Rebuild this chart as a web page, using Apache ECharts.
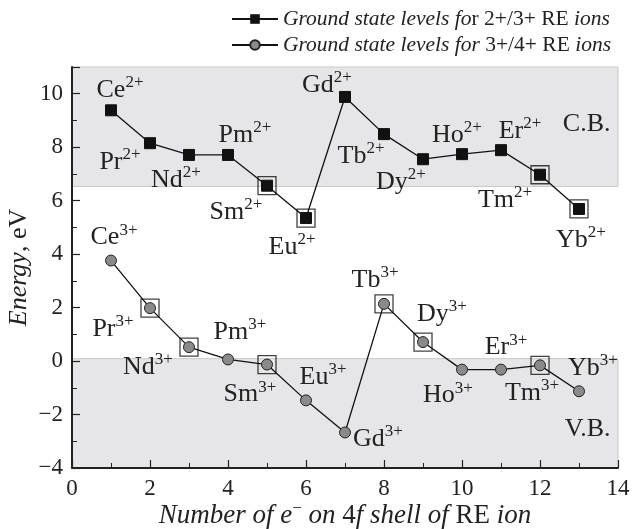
<!DOCTYPE html>
<html>
<head>
<meta charset="utf-8">
<script src="https://cdn.jsdelivr.net/npm/echarts@6/dist/echarts.min.js"></script>
<style>html,body{margin:0;padding:0;background:#fff}#c{width:632px;height:529px}</style>
</head>
<body>
<div id="c"></div>
<script>
// ---- data ----
var electrons = [1,2,3,4,5,6,7,8,9,10,11,12,13];
var ions = ['Ce','Pr','Nd','Pm','Sm','Eu','Gd','Tb','Dy','Ho','Er','Tm','Yb'];
var levels23 = [9.38,8.15,7.71,7.71,6.56,5.35,9.88,8.49,7.55,7.74,7.89,6.97,5.69];
var levels34 = [3.76,1.98,0.52,0.06,-0.13,-1.47,-2.67,2.14,0.71,-0.32,-0.32,-0.16,-1.13];
var boxed23 = [5,6,12,13];
var boxed34 = [2,3,5,8,9,12];
var cbBand = [6.53, 11];
var vbBand = [-4, 0.09];
var xTicks = [0,2,4,6,8,10,12,14];
var yTicks = [-4,-2,0,2,4,6,8,10];
var seriesNames = ['Ground state levels for 2+/3+ RE ions','Ground state levels for 3+/4+ RE ions'];

// ---- styles (label placement offsets) ----
var off23 = [[9,-20],[-30,19],[-13,25],[17,-20],[-31,26],[-14,29],[-18,-12],[-23,22],[-22,23],[-5,-19],[19,-19],[-35,25],[2,31]];
var off34 = [[3,-23],[-37,21],[-41,20],[12,-27],[-17,30],[17,-23],[33,7],[-9,-24],[19,-28],[-14,26],[5,-22],[-8,28],[14,-23]];

var FONT = '"Liberation Serif","DejaVu Serif",serif';
var supRich = {
  b:{fontFamily:FONT,fontSize:26,color:'#222',lineHeight:26},
  s:{fontFamily:FONT,fontSize:17,color:'#222',lineHeight:17,padding:[0,0,15,0]}
};

function buildLine(vals, offs, charge){
  return electrons.map(function(x,i){
    return {value:[x, vals[i]], label:{show:true, position:'inside', offset:offs[i],
      formatter:'{b|'+ions[i]+'}{s|'+charge+'}', rich:supRich}};
  });
}
function buildBoxes(vals, list){
  return list.map(function(x){ return [x, vals[electrons.indexOf(x)]]; });
}

var axisCommon = {
  z:10,
  nameMoveOverlap:false,
  axisLine:{show:true,onZero:false,lineStyle:{color:'#222',width:2}},
  axisTick:{inside:true,length:8,lineStyle:{color:'#222',width:1.2}},
  minorTick:{show:true,splitNumber:2,length:5,lineStyle:{color:'#222',width:1}},
  splitLine:{show:false}
};

var chart = echarts.init(document.getElementById('c'));
chart.setOption({
  animation:false,
  grid:{left:72, right:14, top:67, bottom:61, outerBoundsMode:'none', containLabel:false},
  legend:{
    data:[seriesNames[0], seriesNames[1]],
    orient:'vertical', left:226, top:3, itemGap:4, itemWidth:46, itemHeight:12,
    formatter:function(n){
      return n===seriesNames[0]
        ? '{i|Ground state levels fo}{n|r 2+/3+ RE }{i|ions}'
        : '{i|Ground state levels for }{n|3+/4+ RE }{i|ions}';
    },
    textStyle:{rich:{
      i:{fontFamily:FONT,fontStyle:'italic',fontSize:21.5,color:'#222'},
      n:{fontFamily:FONT,fontSize:21.5,color:'#222'}
    }}
  },
  xAxis:Object.assign({}, axisCommon, {
    type:'value', min:0, max:14, interval:2,
    axisLabel:{fontFamily:FONT,fontSize:23,color:'#222',margin:9,
      formatter:function(v){return xTicks.indexOf(v)>=0?String(v):'';}},
    name:'{i|Number of e}{sup|−}{i| on }{n|4}{i|f shell of }{n|RE }{i|ion}',
    nameLocation:'middle', nameGap:34,
    nameTextStyle:{rich:{
      i:{fontFamily:FONT,fontStyle:'italic',fontSize:27,color:'#222',lineHeight:27},
      n:{fontFamily:FONT,fontSize:27,color:'#222',lineHeight:27},
      sup:{fontFamily:FONT,fontSize:17,color:'#222',lineHeight:17,padding:[0,0,14,0]}
    }}
  }),
  yAxis:Object.assign({}, axisCommon, {
    type:'value', min:-4, max:11, interval:2,
    axisLabel:{fontFamily:FONT,fontSize:23,color:'#222',margin:9,showMaxLabel:false,
      formatter:function(v){return yTicks.indexOf(v)>=0?String(v).replace('-','\u2212'):'';}},
    name:'{i|Energy}{n|, eV}',
    nameLocation:'middle', nameGap:40, nameRotate:90,
    nameTextStyle:{rich:{
      i:{fontFamily:FONT,fontStyle:'italic',fontSize:26,color:'#222'},
      n:{fontFamily:FONT,fontSize:26,color:'#222'}
    }}
  }),
  series:[
    {
      name:seriesNames[0], type:'line', data:buildLine(levels23, off23, '2+'),
      symbol:'rect', symbolSize:11, z:5,
      lineStyle:{color:'#111',width:1.3},
      itemStyle:{color:'#111',borderColor:'#111'},
      markArea:{silent:true,
        itemStyle:{color:'#e6e6e8',borderColor:'#c9c9cb',borderWidth:1},
        label:{show:true,position:'insideRight',distance:8,fontFamily:FONT,fontSize:26,color:'#222'},
        data:[
          [{coord:[0,cbBand[0]],name:'C.B.',label:{offset:[0,-3]}},{coord:[14,cbBand[1]]}],
          [{coord:[0,vbBand[0]],name:'V.B.',label:{offset:[0,16]}},{coord:[14,vbBand[1]]}]
        ]}
    },
    {
      name:seriesNames[1], type:'line', data:buildLine(levels34, off34, '3+'),
      symbol:'circle', symbolSize:11, z:5,
      lineStyle:{color:'#111',width:1.3},
      itemStyle:{color:'#8a8a8a',borderColor:'#222',borderWidth:1}
    },
    {
      name:'box23', type:'scatter', data:buildBoxes(levels23, boxed23),
      symbol:'rect', symbolSize:18, z:4,
      itemStyle:{color:'rgba(0,0,0,0)',borderColor:'#111',borderWidth:1.3}
    },
    {
      name:'box34', type:'scatter', data:buildBoxes(levels34, boxed34),
      symbol:'rect', symbolSize:18, z:4,
      itemStyle:{color:'rgba(0,0,0,0)',borderColor:'#111',borderWidth:1.3}
    }
  ]
});
</script>
</body>
</html>
